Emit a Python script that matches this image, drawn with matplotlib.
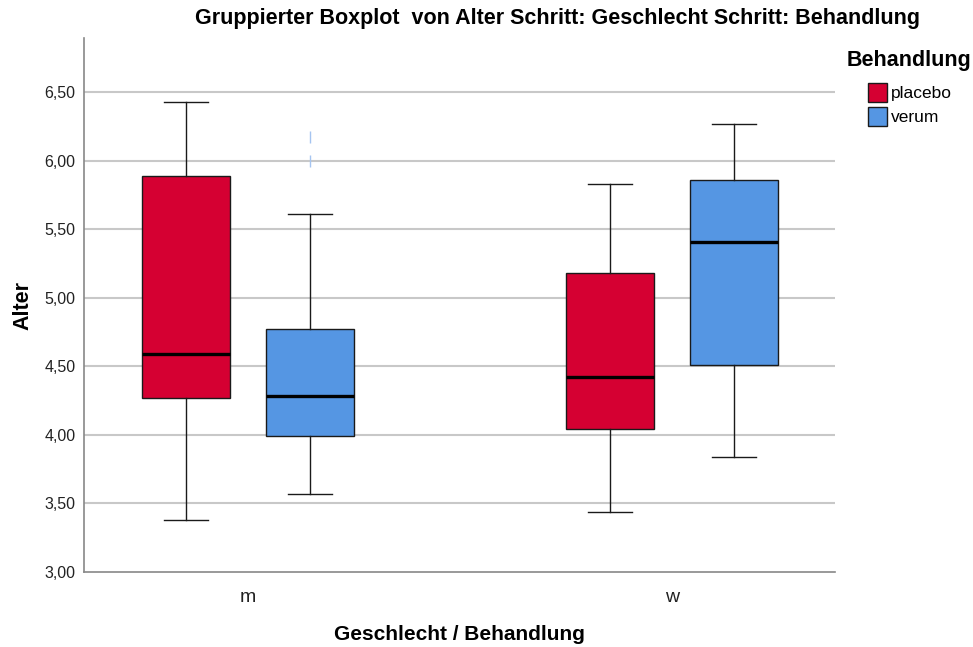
import matplotlib
matplotlib.use("Agg")
import matplotlib.pyplot as plt
from matplotlib.patches import Patch

plt.rcParams["font.family"] = ["Liberation Sans", "DejaVu Sans"]

groups = ["m", "w"]
treatments = ["placebo", "verum"]
colors = {"placebo": "#d50032", "verum": "#5596e3"}

# box stats: (whislo, q1, med, q3, whishi, outliers)
stats = {
    ("m", "placebo"): (3.38, 4.27, 4.59, 5.89, 6.43, []),
    ("m", "verum"): (3.57, 3.99, 4.28, 4.77, 5.61, [6.17, 6.00]),
    ("w", "placebo"): (3.44, 4.04, 4.42, 5.18, 5.83, []),
    ("w", "verum"): (3.84, 4.51, 5.41, 5.86, 6.27, []),
}
yticks = [3.0, 3.5, 4.0, 4.5, 5.0, 5.5, 6.0, 6.5]

fig = plt.figure(figsize=(9.73, 6.47), dpi=100)
ax = fig.add_axes([0.0863, 0.1159, 0.7718, 0.8253])

offsets = {"placebo": -0.146, "verum": 0.146}
width = 0.208

for gi, g in enumerate(groups):
    for t in treatments:
        lo, q1, med, q3, hi, fl = stats[(g, t)]
        bxp = [{"whislo": lo, "q1": q1, "med": med, "q3": q3, "whishi": hi,
                "fliers": fl, "label": ""}]
        ax.bxp(bxp, positions=[gi + offsets[t]], widths=width,
               capwidths=width / 2, patch_artist=True, showfliers=True,
               boxprops=dict(facecolor=colors[t], edgecolor="#1a1a1a", linewidth=1.0),
               medianprops=dict(color="black", linewidth=2.4),
               whiskerprops=dict(color="#1a1a1a", linewidth=1.0),
               capprops=dict(color="#1a1a1a", linewidth=1.0),
               flierprops=dict(marker="|", markersize=8, markeredgecolor="#a5c4f0",
                               markeredgewidth=1.0, linestyle="none"),
               zorder=3)

ax.set_xlim(-0.387, 1.384)
ax.set_ylim(3.0, 6.894)
ax.set_xticks(range(len(groups)))
ax.set_xticklabels(groups, fontsize=14)
ax.set_yticks(yticks)
ax.set_yticklabels([f"{v:.2f}".replace(".", ",") for v in yticks], fontsize=11.5)
ax.tick_params(axis="both", length=0, colors="#222222")
ax.tick_params(axis="x", pad=12)
ax.tick_params(axis="y", pad=6)

for v in yticks[1:]:
    ax.axhline(v, color="#c8c8c8", linewidth=1.5, zorder=1)

for s in ["top", "right"]:
    ax.spines[s].set_visible(False)
for s in ["left", "bottom"]:
    ax.spines[s].set_color("#888888")
    ax.spines[s].set_linewidth(1.2)

ax.set_ylabel("Alter", fontsize=15.5, fontweight="bold", labelpad=8)
ax.set_xlabel("Geschlecht / Behandlung", fontsize=15, fontweight="bold", labelpad=14)

fig.text(0.573, 0.971, "Gruppierter Boxplot  von Alter Schritt: Geschlecht Schritt: Behandlung",
         ha="center", va="center", fontsize=15.5, fontweight="bold")

# legend: title and entries placed separately so entries are indented
fig.text(0.870, 0.907, "Behandlung", ha="left", va="center",
         fontsize=15.5, fontweight="bold")
handles = [Patch(facecolor=colors[t], edgecolor="#1a1a1a", label=t) for t in treatments]
leg = fig.legend(handles=handles, loc="upper left",
                 bbox_to_anchor=(0.892, 0.872), frameon=False, fontsize=12.5,
                 handlelength=1.1, handleheight=1.3, handletextpad=0.25,
                 labelspacing=0.3, borderpad=0.0, borderaxespad=0.0)

fig.savefig("out.png", dpi=100)
